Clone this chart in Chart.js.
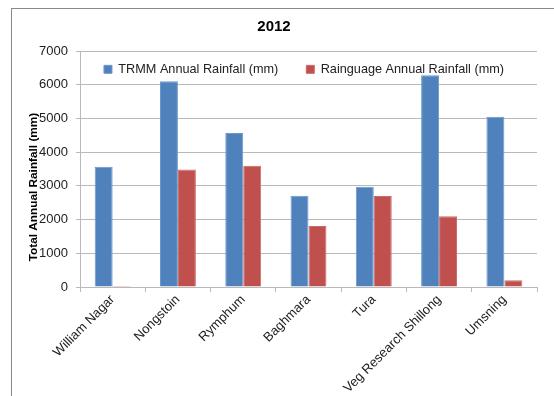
<!DOCTYPE html>
<html>
<head>
<meta charset="utf-8">
<script src="https://cdn.jsdelivr.net/npm/chart.js@4"></script>
<style>
  html, body { margin: 0; padding: 0; overflow: hidden; background: #fff; }
  #wrap { position: relative; width: 554px; height: 396px; overflow: hidden; }
  #frame {
    position: absolute; left: 11px; top: 8px; width: 600px; height: 500px;
    border: 1px solid #8a8a8a; box-sizing: border-box;
  }
  canvas { position: absolute; left: 0; top: 0; }
</style>
</head>
<body>
<div id="wrap">
  <div id="frame"></div>
  <canvas id="rainCanvas" width="554" height="396"></canvas>
</div>
<script>
const stations = [
  "William Nagar",
  "Nongstoin",
  "Rymphum",
  "Baghmara",
  "Tura",
  "Veg Research Shillong",
  "Umsning",
];
const trmmRain = [3565, 6100, 4570, 2705, 2970, 6280, 5050];
const gaugeRain = [30, 3487, 3600, 1807, 2696, 2095, 198];
const yTicks = [0, 1000, 2000, 3000, 4000, 5000, 6000, 7000];

const FONT = "'Liberation Sans', Arial, sans-serif";
const GRID = "#b9b9b9";

// legend takes no room in the layout, it sits inside the plot area
const legendInside = {
  id: "legendInside",
  afterInit(chart) {
    const lg = chart.legend;
    const fit = lg.fit;
    lg.fit = function () {
      fit.call(this);
      this._boxH = this.height;
      this.height = 0;
    };
  },
  afterLayout(chart) {
    const lg = chart.legend;
    lg.top = chart.chartArea.top - 16;
    lg.height = lg._boxH;
    lg.bottom = lg.top + lg._boxH;
    lg.left += 30;
    lg.right += 30;
  },
};

const ctx = document.getElementById("rainCanvas").getContext("2d");
new Chart(ctx, {
  type: "bar",
  data: {
    labels: stations,
    datasets: [
      {
        label: "TRMM Annual Rainfall (mm)",
        data: trmmRain,
        backgroundColor: "#4f81bd",
        borderColor: "#6f97c9",
        borderWidth: 1,
      },
      {
        label: "Rainguage Annual Rainfall (mm)",
        data: gaugeRain,
        backgroundColor: "#c0504d",
        borderColor: "#cc6c69",
        borderWidth: 1,
      },
    ],
  },
  options: {
    responsive: false,
    animation: false,
    datasets: {
      bar: { categoryPercentage: 0.55, barPercentage: 1.0 },
    },
    layout: { padding: { left: 11, right: 17, top: 0, bottom: 0 } },
    plugins: {
      title: {
        display: true,
        text: "2012",
        color: "#000",
        font: { family: FONT, size: 15, weight: "bold" },
        padding: { top: 18, bottom: 15 },
      },
      legend: {
        position: "top",
        fullSize: true,
        labels: {
          color: "#222",
          boxWidth: 8,
          boxHeight: 8,
          padding: 28,
          font: { family: FONT, size: 12.7 },
        },
      },
      tooltip: { enabled: false },
    },
    scales: {
      x: {
        offset: true,
        border: { color: GRID },
        grid: {
          offset: true,
          drawOnChartArea: true,
          color: (c) => (c.index === stations.length ? GRID : "rgba(0,0,0,0)"),
          tickColor: GRID,
          tickLength: 5,
        },
        ticks: {
          color: "#222",
          minRotation: 45,
          maxRotation: 45,
          autoSkip: false,
          padding: 0,
          font: { family: FONT, size: 13 },
        },
        afterFit: (s) => {
          s.height = 109;
        },
      },
      y: {
        min: 0,
        max: 7000,
        border: { color: GRID },
        grid: { color: GRID, tickLength: 4 },
        afterBuildTicks: (s) => {
          s.ticks = yTicks.map((v) => ({ value: v }));
        },
        ticks: {
          color: "#222",
          padding: 8,
          font: { family: FONT, size: 13 },
          callback: (v) => String(v),
        },
        title: {
          display: true,
          // trailing spaces push the centred title down, as in the original
          text: "Total Annual Rainfall (mm)" + " ".repeat(11),
          color: "#000",
          padding: { top: 16, bottom: 0 },
          font: { family: FONT, size: 11.8, weight: "bold" },
        },
        afterFit: (s) => {
          s.width = 69;
        },
      },
    },
  },
  plugins: [legendInside],
});
</script>
</body>
</html>
